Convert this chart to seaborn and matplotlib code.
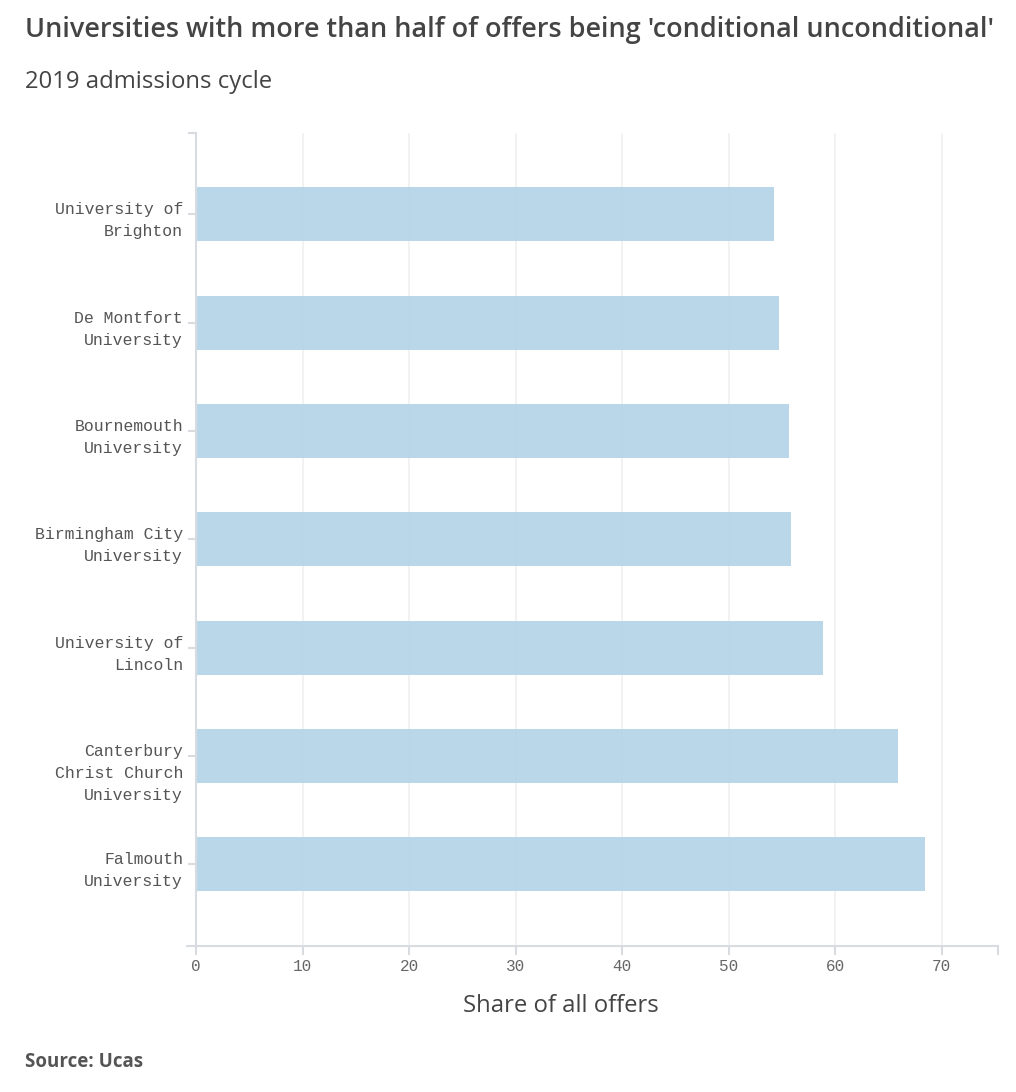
import numpy as np
import pandas as pd
import matplotlib
matplotlib.use('Agg')
import matplotlib.pyplot as plt
import matplotlib.transforms as mtransforms
import seaborn as sns

# data
universities = [
    "University of\nBrighton",
    "De Montfort\nUniversity",
    "Bournemouth\nUniversity",
    "Birmingham City\nUniversity",
    "University of\nLincoln",
    "Canterbury\nChrist Church\nUniversity",
    "Falmouth\nUniversity",
]
share = [54.3, 54.7, 55.7, 55.9, 58.9, 65.9, 68.4]
x_ticks = [0, 10, 20, 30, 40, 50, 60, 70]

title = "Universities with more than half of offers being 'conditional unconditional'"
subtitle = "2019 admissions cycle"
x_label = "Share of all offers"
source = "Source: Ucas"

df = pd.DataFrame({"university": universities, "share": share})

sns.set_style("white")
plt.rcParams['font.family'] = ['Open Sans', 'DejaVu Sans']

axis_col = '#d8dce0'
grid_col = '#efefef'
text_col = '#444444'
mono = 'Liberation Mono'

fig = plt.figure(figsize=(10.16, 10.92), dpi=100)
ax = fig.add_axes([0.1838, 0.1340, 0.982 - 0.1838, 0.8782 - 0.1340])

# bars are slightly see-through, so the grid shows faintly
sns.barplot(data=df, x="share", y="university", orient="h", ax=ax,
            color='#add1e4', alpha=0.85, saturation=1, width=0.5,
            edgecolor='none')

n = len(universities)
ax.set_ylim(n - 0.25, -0.75)
xmax = 75.26
ax.set_xlim(-0.87, xmax)

# grid lines
for t in x_ticks[1:]:
    ax.axvline(t, color=grid_col, lw=1.1, zorder=0)

for s in ['top', 'right']:
    ax.spines[s].set_visible(False)
ax.spines['left'].set_position(('data', 0))
ax.spines['left'].set_color(axis_col)
ax.spines['left'].set_linewidth(1.5)
ax.spines['bottom'].set_color(axis_col)
ax.spines['bottom'].set_linewidth(1.5)

# x ticks, plus an unlabeled one at the end of the axis
ax.set_xticks(x_ticks + [xmax])
ax.set_xticklabels([str(t) for t in x_ticks] + [''], fontfamily=mono,
                   fontsize=11.5, color='#666666')
ax.tick_params(axis='x', length=6.5, width=1.5, color=axis_col, pad=3,
               bottom=True)

# y ticks at categories and top end; labels drawn by hand
ax.set_yticks([-0.75] + list(range(n)))
ax.set_yticklabels([])
ax.tick_params(axis='y', length=6, width=1.5, color=axis_col, left=True)
ax.set_ylabel('')
ax.set_xlabel('')

lab_trans = mtransforms.offset_copy(ax.transData, fig=fig, x=-13, y=12, units='dots')
for i, name in enumerate(universities):
    ax.text(0, i, name, transform=lab_trans, ha='right', va='top',
            multialignment='right', fontfamily=mono, fontsize=11.9,
            color='#555555', linespacing=1.58)

fig.text(0.5525, 1 - 1006 / 1092, x_label, ha='center', va='center',
         fontsize=17.2, color=text_col)

fig.text(25 / 1016, 1 - 30 / 1092, title, ha='left', va='center',
         fontsize=19.45, fontweight='semibold', color=text_col)
fig.text(25 / 1016, 1 - 82 / 1092, subtitle, ha='left', va='center',
         fontsize=17.2, color=text_col)
fig.text(25 / 1016, 1 - 1062 / 1092, source, ha='left', va='center',
         fontsize=13.5, fontweight='bold', color='#555555')

fig.savefig('out.png', dpi=100, facecolor='white')
